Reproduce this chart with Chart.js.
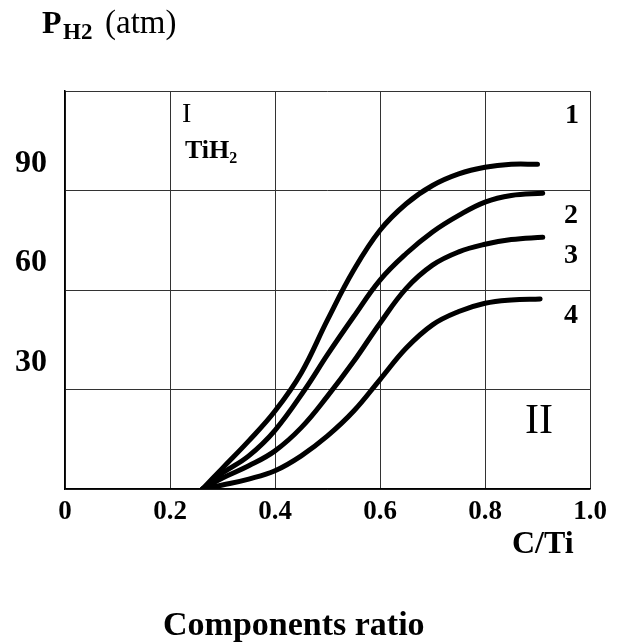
<!DOCTYPE html>
<html>
<head>
<meta charset="utf-8">
<script src="https://cdn.jsdelivr.net/npm/chart.js@4.4.1/dist/chart.umd.min.js"></script>
<style>
  html, body { margin: 0; padding: 0; background: #fff; }
  #wrap { width: 632px; height: 644px; }
</style>
</head>
<body>
<div id="wrap"><canvas id="chart" width="632" height="644"></canvas></div>
<script>
// axes
const xTicks = [0, 0.2, 0.4, 0.6, 0.8, 1.0];
const xTickLabels = ["0", "0.2", "0.4", "0.6", "0.8", "1.0"];
const yTicks = [0, 30, 60, 90, 120];
const yTickLabels = ["", "30", "60", "90", ""];

// curves 1..4 (C/Ti vs P H2, atm)
const x1 = [0.262, 0.30, 0.35, 0.40, 0.45, 0.50, 0.55, 0.60, 0.65, 0.70, 0.75, 0.80, 0.85, 0.90];
const y1 = [0, 6.3, 14.5, 23.5, 35, 51, 66, 78, 86, 91.5, 95, 97, 97.9, 97.9];
const x2 = [0.262, 0.30, 0.35, 0.40, 0.457, 0.50, 0.55, 0.60, 0.65, 0.70, 0.75, 0.80, 0.85, 0.91];
const y2 = [0, 4.8, 10, 17.7, 30, 40.5, 52, 63, 71, 77.5, 82.5, 86.5, 88.5, 89.2];
const x3 = [0.262, 0.30, 0.35, 0.40, 0.45, 0.50, 0.55, 0.60, 0.65, 0.70, 0.75, 0.80, 0.85, 0.91];
const y3 = [0, 3.3, 7, 11.5, 18.5, 28, 38.5, 50, 60.5, 67.5, 71.5, 73.8, 75.2, 75.9];
const x4 = [0.262, 0.30, 0.35, 0.40, 0.45, 0.50, 0.55, 0.60, 0.65, 0.70, 0.75, 0.80, 0.85, 0.905];
const y4 = [0, 1.2, 3, 5.5, 10, 16, 23.5, 33, 42.5, 49.5, 53.5, 56, 57, 57.3];

const curveNames = ["1", "2", "3", "4"];
const curveX = [x1, x2, x3, x4];
const curveY = [y1, y2, y3, y4];

const SERIF = "'Liberation Serif', 'Times New Roman', serif";

const datasets = curveNames.map((name, k) => ({
    label: name,
    data: curveX[k].map((x, i) => ({ x: x, y: curveY[k][i] })),
    borderColor: "#000",
    borderWidth: 5,
    borderCapStyle: "round",
    pointRadius: 0,
    tension: 0.4,
    fill: false
}));

// all the writing around and inside the plot
const textPlugin = {
    id: "labels",
    afterDraw(chart) {
        const ctx = chart.ctx;
        ctx.save();
        ctx.fillStyle = "#000";
        ctx.textBaseline = "alphabetic";
        ctx.textAlign = "left";

        // y axis title: P H2 (atm)
        ctx.font = "bold 32px " + SERIF;
        ctx.fillText("P", 42, 33);
        ctx.font = "bold 23px " + SERIF;
        ctx.fillText("H2", 63, 39);
        ctx.font = "33px " + SERIF;
        ctx.fillText("(atm)", 105, 33);

        // region I, TiH2
        ctx.font = "28px " + SERIF;
        ctx.fillText("I", 182, 122);
        ctx.font = "bold 26px " + SERIF;
        ctx.fillText("TiH", 185, 158);
        const w = ctx.measureText("TiH").width;
        ctx.font = "bold 16px " + SERIF;
        ctx.fillText("2", 185 + w, 163);

        // region II
        ctx.font = "42px " + SERIF;
        ctx.textAlign = "center";
        ctx.fillText("II", 539, 433);

        // curve numbers
        ctx.font = "bold 28px " + SERIF;
        ctx.fillText(curveNames[0], 572, 123);
        ctx.fillText(curveNames[1], 571, 223);
        ctx.fillText(curveNames[2], 571, 263);
        ctx.fillText(curveNames[3], 571, 323);

        // x axis titles
        ctx.textAlign = "left";
        ctx.font = "bold 32px " + SERIF;
        ctx.fillText("C/Ti", 512, 553);
        ctx.font = "bold 34px " + SERIF;
        ctx.fillText("Components ratio", 163, 635);
        ctx.restore();
    }
};

new Chart(document.getElementById("chart"), {
    type: "line",
    data: { datasets: datasets },
    options: {
        responsive: false,
        animation: false,
        layout: { padding: { top: 91, right: 42, left: 0, bottom: 0 } },
        plugins: {
            legend: { display: false },
            tooltip: { enabled: false },
            title: { display: false }
        },
        scales: {
            x: {
                type: "linear",
                min: 0,
                max: 1,
                afterBuildTicks: (axis) => { axis.ticks = xTicks.map(v => ({ value: v })); },
                afterFit: (axis) => { axis.height = 155; },
                grid: { color: "#333", lineWidth: 1, drawTicks: false },
                border: { display: true, color: "#000", width: 1.5 },
                ticks: {
                    color: "#000",
                    padding: 7,
                    maxRotation: 0,
                    font: { family: SERIF, size: 27, weight: "bold" },
                    callback: (value, index) => xTickLabels[index]
                }
            },
            y: {
                type: "linear",
                min: 0,
                max: 120,
                afterBuildTicks: (axis) => { axis.ticks = yTicks.map(v => ({ value: v })); },
                afterFit: (axis) => { axis.width = 65; },
                grid: { color: "#333", lineWidth: 1, drawTicks: false },
                border: { display: true, color: "#000", width: 1.5 },
                ticks: {
                    color: "#000",
                    padding: 18,
                    labelOffset: -27,
                    font: { family: SERIF, size: 32, weight: "bold" },
                    callback: (value, index) => yTickLabels[index]
                }
            }
        }
    },
    plugins: [textPlugin]
});
</script>
</body>
</html>
